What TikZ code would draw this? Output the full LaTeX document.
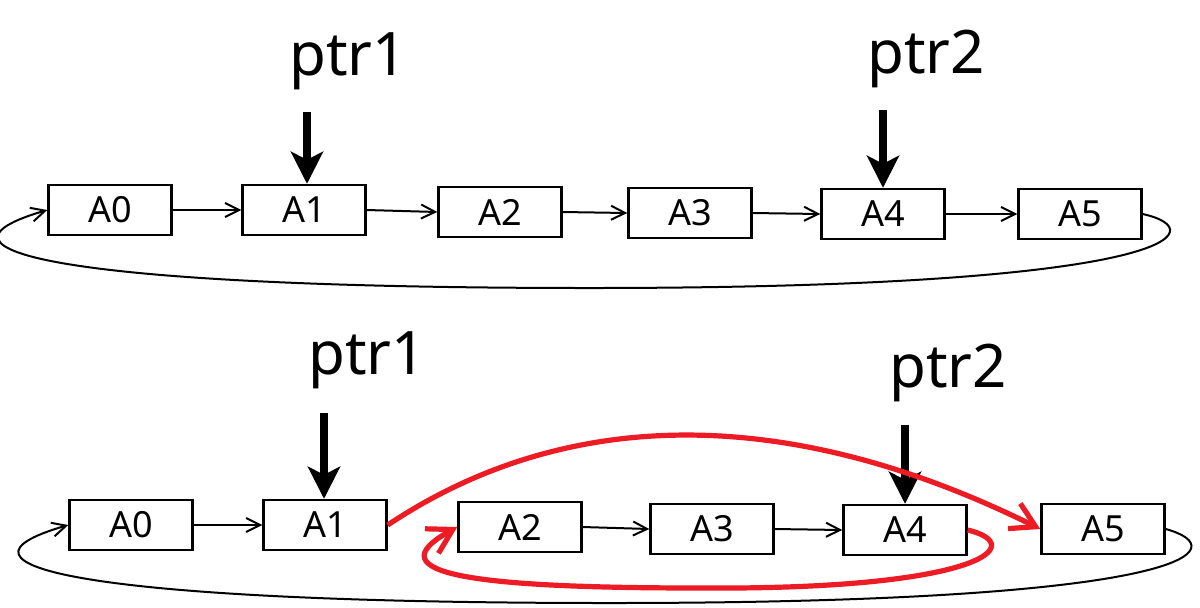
\documentclass[tikz,border=0pt]{standalone}
\usepackage{fontspec}
\setmainfont{Noto Sans}
\usetikzlibrary{arrows.meta}
\definecolor{redc}{RGB}{237,28,36}
\begin{document}
\begin{tikzpicture}[x=0.5pt,y=-0.5pt,
 box/.style={draw,line width=1.2pt,minimum width=61.5pt,minimum height=25pt,inner sep=0pt,font=\fontsize{18}{20}\selectfont},
 lnk/.style={line width=1pt,-{Straight Barb[length=7pt,width=7pt]}},
 ptrlabel/.style={anchor=base,font=\fontsize{30}{34}\selectfont},
 ptrarrow/.style={line width=4pt,-{Stealth[length=16pt,width=16pt,inset=4pt]}},
 redarrow/.style={draw=redc,line width=2.6pt,-{Straight Barb[length=12pt,width=14pt]}}]
\useasboundingbox (0,0) rectangle (1200,607);
% top row
\node[box] (a0) at (110,210) {A0};
\node[box] (a1) at (304,210) {A1};
\node[box] (a2) at (500,212) {A2};
\node[box] (a3) at (690,213) {A3};
\node[box] (a4) at (883,214) {A4};
\node[box] (a5) at (1080,214) {A5};
\draw[lnk] (a0.east) -- (a1.west);
\draw[lnk] (a1.east) -- (a2.west);
\draw[lnk] (a2.east) -- (a3.west);
\draw[lnk] (a3.east) -- (a4.west);
\draw[lnk] (a4.east) -- (a5.west);
\coordinate (tb) at (590,288);
\draw[lnk] (a5.east) .. controls (1215,230) and (1180,288) .. (tb)
  .. controls (60,288) and (-90,250) .. (a0.west);
\node[ptrlabel] (tp1) at (348,75) {ptr1};
\node[ptrlabel] (tp2) at (926,73) {ptr2};
\coordinate (ts1) at (307,112);
\coordinate (ts2) at (883,110);
\draw[ptrarrow] (ts1) -- (ts1 |- a1.north);
\draw[ptrarrow] (ts2) -- (ts2 |- a4.north);
% bottom row
\node[box] (b0) at (131,525) {A0};
\node[box] (b1) at (325,525) {A1};
\node[box] (b2) at (520,527) {A2};
\node[box] (b3) at (712,529) {A3};
\node[box] (b4) at (905,530) {A4};
\node[box] (b5) at (1103,529) {A5};
\draw[lnk] (b0.east) -- (b1.west);
\draw[lnk] (b2.east) -- (b3.west);
\draw[lnk] (b3.east) -- (b4.west);
\coordinate (bb) at (610,603);
\draw[lnk] (b5.east) .. controls (1235,548) and (1200,603) .. (bb)
  .. controls (80,603) and (-70,565) .. (b0.west);
\node[ptrlabel] (bp1) at (367,374) {ptr1};
\node[ptrlabel] (bp2) at (948,387) {ptr2};
\coordinate (bs1) at (324,413);
\coordinate (bs2) at (905,425);
\draw[ptrarrow] (bs1) -- (bs1 |- b1.north);
\draw[ptrarrow] (bs2) -- (bs2 |- b4.north);
% red arrows
\draw[redarrow] (b1.east) .. controls (560,410) and (780,400) .. (b5.west);
\coordinate (rb) at (700,588);
\draw[redarrow] (b4.east) .. controls (1030,545) and (980,590) .. (rb)
  .. controls (480,588) and (370,575) .. (b2.west);
\end{tikzpicture}
\end{document}
